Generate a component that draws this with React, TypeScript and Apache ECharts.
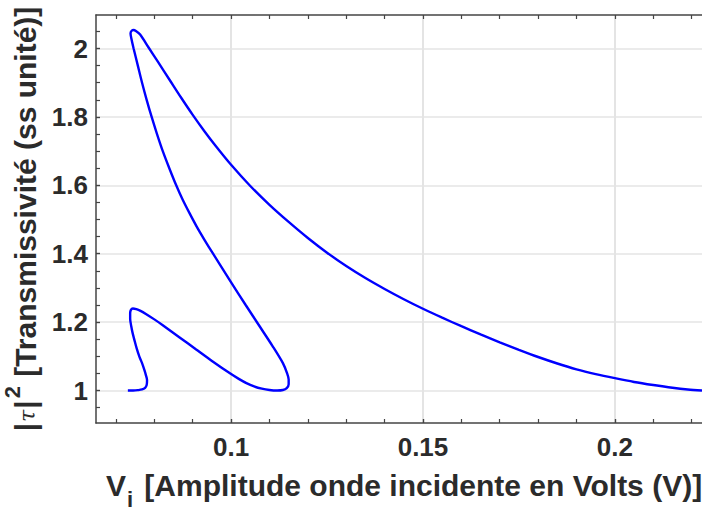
import React, { useEffect, useRef } from 'react';
import * as echarts from 'echarts';

// Axis ticks
const xMajor = [0.1, 0.15, 0.2];
const xMinor = [0.07, 0.08, 0.09, 0.1, 0.11, 0.12, 0.13, 0.14, 0.15, 0.16, 0.17, 0.18, 0.19, 0.2, 0.21, 0.22];
const yMajor = [1, 1.2, 1.4, 1.6, 1.8, 2];
const yMinor = [0.95, 1, 1.05, 1.1, 1.15, 1.2, 1.25, 1.3, 1.35, 1.4, 1.45, 1.5, 1.55, 1.6, 1.65, 1.7, 1.75, 1.8, 1.85, 1.9, 1.95, 2, 2.05];

// Curve (ordered along the path): incident amplitude Vi and |tau|^2
const vi = [
  // small loop, left side
  0.0731, 0.0745, 0.0757, 0.0768, 0.0776, 0.0780, 0.0781, 0.0778, 0.0774, 0.0768,
  0.0761, 0.0754, 0.0748, 0.0743, 0.0740, 0.0737, 0.0737, 0.0739, 0.0744, 0.0753,
  0.0764, 0.0778,
  // small loop, lower right
  0.0800, 0.0822, 0.0865, 0.0909, 0.0952, 0.1000, 0.1020, 0.1040, 0.1060, 0.1080,
  0.1100, 0.1120, 0.1135, 0.1145, 0.1150, 0.1150, 0.1146, 0.1135,
  // inner branch up
  0.1108, 0.1073, 0.1038, 0.0998, 0.0953, 0.0931, 0.0910, 0.0891, 0.0873, 0.0857,
  0.0839, 0.0822, 0.0807, 0.0793, 0.0780, 0.0768, 0.0757, 0.0746, 0.0740, 0.0738,
  // peak
  0.0741, 0.0746, 0.0752, 0.0763, 0.0785,
  // outer branch down
  0.0810, 0.0840, 0.0870, 0.0900, 0.0930, 0.0960, 0.1000, 0.1050, 0.1100, 0.1150,
  0.1200, 0.1250, 0.1300, 0.1350, 0.1400, 0.1450, 0.1500, 0.1550, 0.1600, 0.1650,
  0.1700, 0.1750, 0.1800, 0.1850, 0.1900, 0.1950, 0.2000, 0.2050, 0.2100, 0.2150,
  0.2190, 0.2227,
];
const tau2 = [
  1.000, 1.000, 1.001, 1.003, 1.008, 1.016, 1.031, 1.045, 1.060, 1.080,
  1.099, 1.123, 1.148, 1.170, 1.187, 1.210, 1.226, 1.236, 1.240, 1.238,
  1.233, 1.224,
  1.208, 1.191, 1.156, 1.120, 1.085, 1.048, 1.034, 1.0215, 1.012, 1.0055,
  1.0015, 1.000, 1.0015, 1.007, 1.018, 1.032, 1.050, 1.080,
  1.130, 1.190, 1.250, 1.320, 1.400, 1.440, 1.480, 1.520, 1.560, 1.600,
  1.650, 1.700, 1.750, 1.800, 1.850, 1.900, 1.950, 2.000, 2.030, 2.045,
  2.052, 2.054, 2.051, 2.041, 2.003,
  1.960, 1.908, 1.856, 1.806, 1.759, 1.715, 1.660, 1.598, 1.543, 1.493,
  1.446, 1.403, 1.364, 1.329, 1.297, 1.267, 1.239, 1.213, 1.188, 1.164,
  1.141, 1.119, 1.098, 1.079, 1.062, 1.048, 1.036, 1.025, 1.016, 1.008,
  1.003, 1.000,
];

const X_MIN = 0.0648;
const X_MAX = 0.2227;
const Y_MIN = 0.905;
const Y_MAX = 2.098;

const FONT = "'Liberation Sans', Arial, Helvetica, sans-serif";
const AXIS_COLOR = '#444';
const GRID_COLOR = '#e4e4e4';
const TEXT_COLOR = '#2b2b2b';

export default function App() {
  const ref = useRef<HTMLDivElement>(null);

  useEffect(() => {
    if (!ref.current) return;
    const chart = echarts.init(ref.current, null, { renderer: 'svg' });
    const data = vi.map((x, i) => [x, tau2[i]]);

    const baseX = { type: 'value', min: X_MIN, max: X_MAX, gridIndex: 0 };
    const baseY = { type: 'value', min: Y_MIN, max: Y_MAX, gridIndex: 0 };
    const tickStyle = { color: AXIS_COLOR, width: 1.2 };

    const option: any = {
      animation: false,
      backgroundColor: '#fff',
      grid: { left: 96, top: 15, width: 606, height: 408, containLabel: false, outerBoundsMode: 'none' },
      xAxis: [
        {
          ...baseX,
          position: 'bottom',
          axisLine: { show: true, lineStyle: { color: AXIS_COLOR, width: 1.5 } },
          axisTick: { show: true, inside: true, length: 4, customValues: xMajor, lineStyle: tickStyle },
          axisLabel: {
            customValues: xMajor,
            margin: 11,
            fontFamily: FONT,
            fontWeight: 'bold',
            fontSize: 26,
            color: TEXT_COLOR,
            formatter: (v: number) => String(Math.round(v * 1000) / 1000),
          },
          splitLine: { show: true, lineStyle: { color: GRID_COLOR, width: 2 } },
          name: '{a|V}{sub|i}{a| [Amplitude onde incidente en Volts (V)]}',
          nameLocation: 'middle',
          nameGap: 37,
          nameTextStyle: {
            padding: [0, 0, 0, 10],
            rich: {
              a: { fontFamily: FONT, fontWeight: 'bold', fontSize: 30, color: TEXT_COLOR },
              sub: { fontFamily: FONT, fontWeight: 'bold', fontSize: 22, color: TEXT_COLOR, padding: [28, 3, 0, 1] },
            },
          },
        },
        {
          ...baseX,
          position: 'bottom',
          axisLine: { show: false },
          axisTick: { show: true, inside: true, length: 4, customValues: xMinor, lineStyle: tickStyle },
          axisLabel: { show: false },
          splitLine: { show: false },
        },
        {
          ...baseX,
          position: 'top',
          axisLine: { show: true, lineStyle: { color: AXIS_COLOR, width: 1.5 } },
          axisTick: { show: true, inside: true, length: 4, customValues: xMinor, lineStyle: tickStyle },
          axisLabel: { show: false },
          splitLine: { show: false },
        },
      ],
      yAxis: [
        {
          ...baseY,
          position: 'left',
          axisLine: { show: true, lineStyle: { color: AXIS_COLOR, width: 1.5 } },
          axisTick: { show: true, inside: true, length: 4, customValues: yMajor, lineStyle: tickStyle },
          axisLabel: {
            customValues: yMajor,
            margin: 8,
            fontFamily: FONT,
            fontWeight: 'bold',
            fontSize: 26,
            color: TEXT_COLOR,
            formatter: (v: number) => String(Math.round(v * 100) / 100),
          },
          splitLine: { show: true, lineStyle: { color: GRID_COLOR, width: 1.5 } },
          name: '{a||}{tau|τ}{a||}{sup|2}{a| [Transmissivité (ss unité)]}',
          nameLocation: 'middle',
          nameRotate: 90,
          nameGap: 45,
          nameTextStyle: {
            rich: {
              a: { fontFamily: FONT, fontWeight: 'bold', fontSize: 30, color: TEXT_COLOR },
              tau: { fontFamily: "'DejaVu Serif', serif", fontStyle: 'italic', fontSize: 22, color: TEXT_COLOR, padding: [4, 1, 0, 1] },
              sup: { fontFamily: FONT, fontWeight: 'bold', fontSize: 22, color: TEXT_COLOR, padding: [0, 1, 26, 2] },
            },
          },
        },
        {
          ...baseY,
          position: 'left',
          axisLine: { show: false },
          axisTick: { show: true, inside: true, length: 4, customValues: yMinor, lineStyle: tickStyle },
          axisLabel: { show: false },
          splitLine: { show: false },
        },
      ],
      series: [
        {
          type: 'line',
          xAxisIndex: 0,
          yAxisIndex: 0,
          data,
          showSymbol: false,
          symbol: 'none',
          smooth: 0.3,
          clip: true,
          lineStyle: { color: '#0000ff', width: 2.4 },
        },
      ],
    };

    chart.setOption(option);
    return () => chart.dispose();
  }, []);

  return (
    <div
      ref={ref}
      style={{ position: 'fixed', left: 0, top: 0, width: 702, height: 512, background: '#fff' }}
    />
  );
}
